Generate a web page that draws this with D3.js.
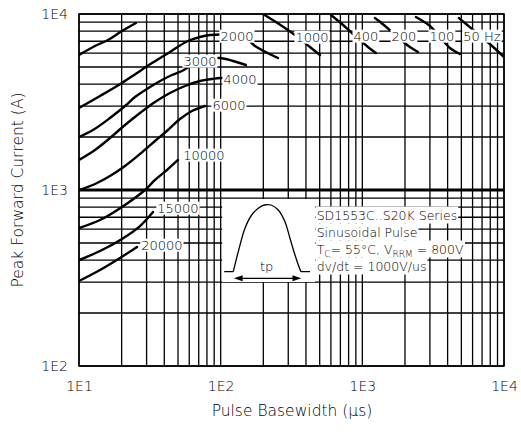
<!DOCTYPE html>
<html>
<head>
<meta charset="utf-8">
<script src="https://cdn.jsdelivr.net/npm/d3@7"></script>
<style>
  body { margin: 0; background: #fff; }
  svg text { font-family: "DejaVu Sans", sans-serif; font-weight: 200; fill: #000; }
</style>
</head>
<body>
<div id="chart"></div>
<script>
// frequency curves, [pulse basewidth (us), peak current (A)]
const curve1500 = [[10, 5848], [12.97, 6579], [16.02, 7118], [20.11, 8006], [25.26, 8889]];
const curve2000 = [[10, 2924], [14.07, 3420], [20.11, 4055], [25.67, 4622], [32.75, 5266], [43.87, 6084],
    [58.78, 7025], [71.44, 7399], [84.04, 7597], [98.9, 7647], [120.2, 7798], [150.8, 7305], [174.7, 6579], [253.8, 5623]];
const curve3000 = [[10, 2001], [12.55, 2192], [16.55, 2565], [21.12, 3001], [24.85, 3375], [31.71, 3847], [38.53, 4217],
    [45.33, 4502], [53.33, 4745], [65.86, 5266], [77.48, 5551], [98.9, 5623], [122.1, 5408], [150.8, 5130]];
const curve4000 = [[10, 1481], [12.97, 1688], [16.55, 1974], [21.12, 2341], [26.95, 2738], [34.39, 3162], [43.87, 3557],
    [56.0, 3899], [71.44, 4163], [86.79, 4273], [100.5, 4329], [125, 4330]];
const curve6000 = [[10, 1000], [12.97, 1082], [16.55, 1201], [21.12, 1369], [26.95, 1601], [34.39, 1898], [42.47, 2192],
    [51.61, 2531], [62.73, 2811], [77.48, 3001]];
const curve10000 = [[10, 608], [14.07, 675], [20.11, 801], [29.23, 1000], [34.39, 1140], [41.78, 1299], [49.96, 1481]];
const curve15000 = [[10, 400], [14.07, 450], [20.11, 527], [26.95, 624], [33.29, 750]];
const curve20000 = [[10, 304], [14.07, 351], [19.47, 411], [25.67, 475]];
const curve1000 = [[198.9, 10000], [257.9, 8773], [334.5, 7597], [426.8, 6494], [502.1, 5848]];
const curve400 = [[600.3, 9870], [717.9, 8773], [844.6, 7798], [961.7, 7118], [1095, 6494], [1247, 6003]];
const curve200 = [[1227, 9490], [1420, 8659], [1618, 7900], [1873, 7118], [2167, 6494], [2469, 6084]];
const curve100 = [[2389, 9615], [3000, 8547], [3529, 7399], [4152, 6409], [4884, 5926]];
const curve50 = [[4805, 9490], [5298, 8889], [6543, 7697], [8084, 6667], [10000, 5697]];

const curves = [curve1500, curve2000, curve3000, curve4000, curve6000, curve10000, curve15000, curve20000,
    curve1000, curve400, curve200, curve100, curve50];

// curve labels: [text, us, A]
const curveLabels = [
    ["2000", 130.3, 7499], ["3000", 71.4, 5408], ["4000", 136.8, 4273], ["6000", 114.4, 3041],
    ["10000", 76.2, 1581], ["15000", 49.96, 790], ["20000", 38.5, 487],
    ["1000", 441, 7399], ["400", 1060, 7499], ["200", 1966, 7499], ["100", 3646, 7499], ["50 Hz", 6982, 7499]
];

const xTicks = [10, 100, 1000, 10000];
const yTicks = [100, 1000, 10000];
const tickLabel = v => "1E" + Math.round(Math.log10(v));

const noteLines = ["SD1553C..S20K Series", "Sinusoidal Pulse", "Tc", "dv/dt = 1000V/us"];

// pulse sketch for the inset, local pixels
const pulseOutline = [[12.6, 81.7], [17.6, 61.7], [24.3, 38.3], [31, 25], [37.6, 18.3], [43.6, 15], [50.3, 15],
    [57.6, 20], [64.3, 31.7], [69.3, 48.3], [74.3, 65], [78.3, 76.7], [80.3, 81.7]];

const width = 521, height = 434;
const svg = d3.select("#chart").append("svg")
    .attr("width", width)
    .attr("height", height);

const x = d3.scaleLog().domain([10, 10000]).range([79, 504]);
const y = d3.scaleLog().domain([100, 10000]).range([366, 14]);

// log grid
const xGrid = [];
for (let d = 10; d < 10000; d *= 10) for (let k = 1; k < 10; k++) xGrid.push(d * k);
xGrid.push(10000);
const yGrid = [];
for (let d = 100; d < 10000; d *= 10) for (let k = 1; k < 10; k++) yGrid.push(d * k);
yGrid.push(10000);

const grid = svg.append("g").attr("stroke", "#000");
grid.selectAll(".v").data(xGrid).enter().append("line")
    .attr("x1", d => x(d)).attr("x2", d => x(d))
    .attr("y1", y(100)).attr("y2", y(10000))
    .attr("stroke-width", 1.3);
grid.selectAll(".h").data(yGrid).enter().append("line")
    .attr("y1", d => y(d)).attr("y2", d => y(d))
    .attr("x1", x(10)).attr("x2", x(10000))
    .attr("stroke-width", d => d === 1000 ? 2.8 : 1.3);

svg.append("clipPath").attr("id", "plotclip")
    .append("rect")
    .attr("x", x(10)).attr("y", y(10000))
    .attr("width", x(10000) - x(10)).attr("height", y(100) - y(10000));

const line = d3.line()
    .x(d => x(d[0]))
    .y(d => y(d[1]))
    .curve(d3.curveCatmullRom);

svg.append("g").attr("clip-path", "url(#plotclip)")
    .selectAll("path").data(curves).enter().append("path")
    .attr("d", line)
    .attr("fill", "none")
    .attr("stroke", "#000")
    .attr("stroke-width", 2.4)
    .attr("stroke-linecap", "round");

// labels on white boxes
const lab = svg.append("g");
curveLabels.forEach(([txt, t, a]) => {
    const g = lab.append("g");
    const tx = g.append("text")
        .attr("x", x(t)).attr("y", y(a))
        .attr("dy", "0.36em")
        .attr("text-anchor", "middle")
        .style("font-size", "13px")
        .text(txt);
    const b = tx.node().getBBox();
    g.insert("rect", "text")
        .attr("x", b.x - 1).attr("y", b.y + 1)
        .attr("width", b.width + 2).attr("height", b.height - 2)
        .attr("fill", "#fff");
});

// inset: pulse sketch and test conditions
const inset = svg.append("g")
    .attr("transform", `translate(${x(100)},${y(1000)})`);

inset.append("rect")
    .attr("x", 1.5).attr("y", 9)
    .attr("width", 93).attr("height", 83)
    .attr("fill", "#fff");

inset.append("path")
    .attr("d", d3.line().curve(d3.curveCatmullRom)(pulseOutline))
    .attr("fill", "none").attr("stroke", "#000").attr("stroke-width", 1.3);
inset.append("path")
    .attr("d", "M3.6,81.7H12.6M80.3,81.7H89.3")
    .attr("stroke", "#000").attr("stroke-width", 1.3);
inset.append("line")
    .attr("x1", 20).attr("x2", 74).attr("y1", 88.3).attr("y2", 88.3)
    .attr("stroke", "#000").attr("stroke-width", 1.3);
inset.append("path")
    .attr("d", "M13.2,88.3L22,85.3L22,91.3Z M80.6,88.3L71.8,85.3L71.8,91.3Z")
    .attr("fill", "#000");
inset.append("text")
    .attr("x", 46).attr("y", 76.7).attr("dy", "0.36em")
    .attr("text-anchor", "middle")
    .style("font-size", "13px")
    .text("tp");

const notes = inset.append("g");
noteLines.forEach((s, i) => {
    const g = notes.append("g");
    const tx = g.append("text")
        .attr("x", 96).attr("y", 25 + i * 17).attr("dy", "0.36em")
        .style("font-size", "12.5px");
    if (s === "Tc") {
        tx.append("tspan").text("T");
        tx.append("tspan").attr("dy", 3).style("font-size", "9px").text("C");
        tx.append("tspan").attr("dy", -3).text("= 55°C, V");
        tx.append("tspan").attr("dy", 3).style("font-size", "9px").text("RRM");
        tx.append("tspan").attr("dy", -3).text(" = 800V");
    } else {
        tx.text(s);
    }
    const b = tx.node().getBBox();
    g.insert("rect", "text")
        .attr("x", b.x - 1).attr("y", 25 + i * 17 - 8.5)
        .attr("width", b.width + 2).attr("height", 17)
        .attr("fill", "#fff");
});

// frame
svg.append("rect")
    .attr("x", x(10)).attr("y", y(10000))
    .attr("width", x(10000) - x(10)).attr("height", y(100) - y(10000))
    .attr("fill", "none").attr("stroke", "#000").attr("stroke-width", 1.5);

// axes
const xAxis = svg.append("g")
    .attr("transform", `translate(0,${y(100)})`)
    .call(d3.axisBottom(x).tickValues(xTicks).tickFormat(tickLabel).tickSize(0).tickPadding(15));
const yAxis = svg.append("g")
    .attr("transform", `translate(${x(10)},0)`)
    .call(d3.axisLeft(y).tickValues(yTicks).tickFormat(tickLabel).tickSize(0).tickPadding(11));
[xAxis, yAxis].forEach(a => {
    a.select(".domain").remove();
    a.selectAll("text").style("font-size", "14px").style("font-family", "DejaVu Sans")
        .style("font-weight", 200).attr("fill", "#000");
});

svg.append("text")
    .attr("x", 292).attr("y", 416)
    .attr("text-anchor", "middle")
    .style("font-size", "15.5px")
    .text("Pulse Basewidth (µs)");

svg.append("text")
    .attr("transform", "translate(23,190) rotate(-90)")
    .attr("text-anchor", "middle")
    .style("font-size", "15.5px")
    .text("Peak Forward Current (A)");
</script>
</body>
</html>
